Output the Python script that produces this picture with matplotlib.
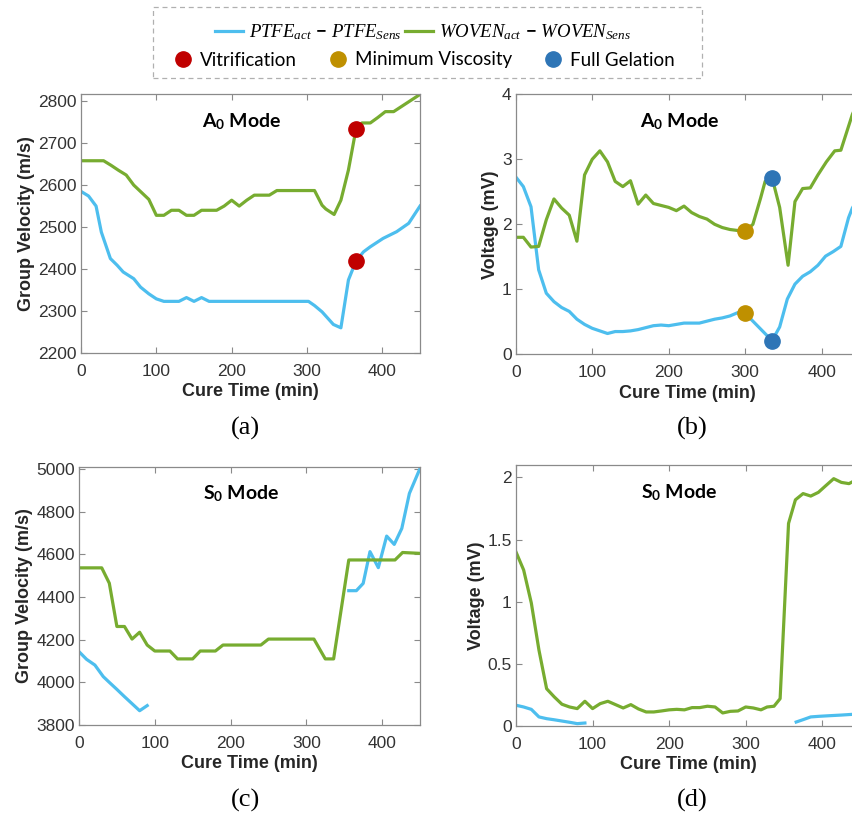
"""
Cure monitoring of PTFE / woven laminates with guided waves: group velocity
and received voltage of the A0 and S0 modes versus cure time.
Markers flag vitrification, minimum viscosity and full gelation.
"""
import numpy as np
import matplotlib
matplotlib.use("Agg")
import matplotlib.pyplot as plt
from matplotlib.lines import Line2D
from matplotlib.patches import Rectangle

plt.rcParams["font.family"] = ["Liberation Sans", "DejaVu Sans"]
plt.rcParams["mathtext.fontset"] = "custom"
plt.rcParams["mathtext.it"] = "Liberation Serif:italic"
plt.rcParams["mathtext.rm"] = "Lato:bold"

BLUE = "#4DBEEE"
GREEN = "#77AC30"
RED = "#C00000"
GOLD = "#BF9000"
DKBLUE = "#2E75B6"

# ---- (a) A0 group velocity (m/s)
a_woven_t = [0, 10, 20, 30, 40, 50, 60, 70, 80, 90, 100, 110, 120, 130, 140, 150, 160, 180,
             190, 200, 210, 220, 230, 250, 260, 310, 320, 325, 336, 345, 355, 365, 373, 384,
             394, 404, 415, 450]
a_woven_v = [2658, 2658, 2658, 2658, 2647, 2635, 2624, 2600, 2583, 2566, 2528, 2528, 2540, 2540,
             2528, 2528, 2540, 2540, 2550, 2564, 2550, 2564, 2576, 2576, 2587, 2587, 2552, 2543,
             2530, 2564, 2636, 2733, 2748, 2748, 2761, 2775, 2775, 2816]
a_ptfe_t = [0, 10, 20, 27, 39, 48, 56, 70, 79, 90, 100, 110, 130, 140, 150, 160, 170, 302, 310,
            320, 335, 345, 355, 365, 375, 384, 401, 419, 435, 450]
a_ptfe_v = [2585, 2574, 2550, 2488, 2425, 2409, 2393, 2377, 2357, 2341, 2329, 2323, 2323, 2332,
            2323, 2332, 2323, 2323, 2313, 2298, 2268, 2260, 2374, 2419, 2441, 2453, 2473, 2489,
            2509, 2550]

# ---- (b) A0 voltage (mV)
b_woven_t = [0, 10, 20, 30, 40, 50, 60, 70, 80, 90, 100, 110, 120, 130, 140, 150, 160, 170, 180,
             190, 200, 210, 220, 230, 240, 250, 260, 270, 280, 300, 310, 320, 326, 335, 345, 356,
             365, 375, 385, 395, 406, 417, 425, 440, 450]
b_woven_v = [1.80, 1.80, 1.65, 1.66, 2.07, 2.39, 2.25, 2.14, 1.74, 2.76, 3.00, 3.13, 2.96, 2.66,
             2.58, 2.67, 2.31, 2.45, 2.32, 2.29, 2.26, 2.21, 2.28, 2.18, 2.12, 2.08, 2.00, 1.95,
             1.92, 1.89, 2.00, 2.40, 2.66, 2.72, 2.26, 1.37, 2.35, 2.55, 2.56, 2.76, 2.96, 3.13,
             3.14, 3.69, 3.95]
b_ptfe_t = [0, 10, 20, 30, 40, 50, 60, 70, 80, 90, 100, 110, 120, 130, 140, 150, 160, 170, 180,
            190, 200, 210, 220, 230, 240, 250, 260, 270, 280, 290, 300, 335, 345, 355, 365, 375,
            385, 395, 405, 415, 425, 435, 440, 450]
b_ptfe_v = [2.73, 2.58, 2.27, 1.30, 0.94, 0.81, 0.72, 0.66, 0.54, 0.46, 0.40, 0.36, 0.32, 0.35,
            0.35, 0.36, 0.38, 0.41, 0.44, 0.45, 0.44, 0.46, 0.48, 0.48, 0.48, 0.51, 0.54, 0.56,
            0.59, 0.64, 0.63, 0.21, 0.42, 0.85, 1.08, 1.20, 1.27, 1.37, 1.51, 1.58, 1.66, 2.10,
            2.25, 2.45]

# ---- (c) S0 group velocity (m/s); NaN = no signal
c_woven_t = [0, 30, 40, 50, 60, 70, 80, 90, 100, 120, 130, 150, 160, 180, 190, 240, 250, 310,
             325, 336, 356, 417, 427, 450]
c_woven_v = [4537, 4537, 4465, 4262, 4262, 4203, 4235, 4175, 4147, 4147, 4110, 4110, 4147, 4147,
             4175, 4175, 4203, 4203, 4110, 4110, 4574, 4574, 4609, 4605]
c_ptfe_t = [0, 10, 21, 32, 40, 50, 60, 70, 80, 90, 220, 356, 366, 375, 384, 395, 406, 416, 426,
            436, 450]
c_ptfe_v = [4144, 4108, 4081, 4027, 4000, 3967, 3933, 3900, 3867, 3891, np.nan, 4430, 4430, 4464,
            4613, 4538, 4686, 4647, 4722, 4886, 5003]

# ---- (d) S0 voltage (mV)
d_woven_t = [0, 10, 20, 30, 40, 50, 60, 70, 80, 90, 100, 110, 120, 130, 140, 150, 160, 170, 180,
             190, 200, 210, 220, 230, 240, 250, 260, 270, 280, 290, 300, 310, 320, 328, 337, 345,
             356, 365, 375, 385, 395, 404, 415, 425, 435, 450]
d_woven_v = [1.40, 1.255, 0.99, 0.61, 0.30, 0.234, 0.175, 0.153, 0.14, 0.199, 0.14, 0.18, 0.199,
             0.172, 0.145, 0.172, 0.137, 0.113, 0.113, 0.121, 0.13, 0.134, 0.13, 0.148, 0.148,
             0.159, 0.153, 0.105, 0.118, 0.121, 0.153, 0.145, 0.13, 0.153, 0.159, 0.22, 1.63,
             1.82, 1.87, 1.85, 1.88, 1.93, 1.99, 1.96, 1.95, 2.00]
d_ptfe_t = [0, 10, 20, 30, 40, 50, 60, 70, 80, 90, 220, 366, 375, 385, 396, 410, 425, 440, 450]
d_ptfe_v = [0.167, 0.153, 0.134, 0.073, 0.059, 0.05, 0.04, 0.03, 0.019, 0.024, np.nan, 0.032,
            0.051, 0.073, 0.078, 0.083, 0.088, 0.094, 0.097]

# cure events
vit_t, vit_a = [365, 365], [2733, 2419]
minvisc_t, minvisc_b = [300, 300], [1.89, 0.63]
gel_t, gel_b = [335, 335], [2.72, 0.21]

W, H = 852, 817
fig = plt.figure(figsize=(W / 100, H / 100), dpi=100)


def px_axes(left, top, right, bottom):
    return fig.add_axes([left / W, 1 - bottom / H, (right - left) / W, (bottom - top) / H])


def style(ax, ylabel, ylim, yticks, mode):
    ax.set_xlim(0, 450)
    ax.set_ylim(*ylim)
    ax.set_xticks([0, 100, 200, 300, 400])
    ax.set_yticks(yticks)
    ax.tick_params(direction="in", length=4, width=0.8, top=True, right=True,
                   labelsize=12.5, colors="#8a8a8a", labelcolor="#333333")
    ax.tick_params(axis="x", pad=8)
    ax.tick_params(axis="y", pad=3)
    for s in ax.spines.values():
        s.set_color("#8a8a8a")
        s.set_linewidth(0.9)
    ax.set_xlabel("Cure Time (min)", fontsize=13, fontweight="bold", color="#262626", labelpad=3)
    ax.set_ylabel(ylabel, fontsize=13, fontweight="bold", color="#262626", labelpad=2)
    ax.text(0.475, 0.895, mode, transform=ax.transAxes, ha="center", va="center",
            fontsize=14, fontweight="bold", family=["Lato", "DejaVu Sans"])


LW = 2.3
MS = 11

# (a)
ax = px_axes(81, 94, 420, 353)
ax.plot(a_ptfe_t, a_ptfe_v, color=BLUE, lw=LW)
ax.plot(a_woven_t, a_woven_v, color=GREEN, lw=LW)
ax.plot(vit_t, vit_a, "o", color=RED, ms=MS, ls="none")
style(ax, "Group Velocity (m/s)", (2200, 2817), range(2200, 2801, 100), "A$_0$ Mode")

# (b) axes run past the right edge of the figure, as in the original
ax = px_axes(515.7, 94.3, 860, 354.3)
ax.plot(b_ptfe_t, b_ptfe_v, color=BLUE, lw=LW)
ax.plot(b_woven_t, b_woven_v, color=GREEN, lw=LW)
ax.plot(minvisc_t, minvisc_b, "o", color=GOLD, ms=MS, ls="none")
ax.plot(gel_t, gel_b, "o", color=DKBLUE, ms=MS, ls="none")
style(ax, "Voltage (mV)", (0, 4), [0, 1, 2, 3, 4], "A$_0$ Mode")

# (c)
ax = px_axes(79, 467, 420, 725)
ax.plot(c_ptfe_t, c_ptfe_v, color=BLUE, lw=LW)
ax.plot(c_woven_t, c_woven_v, color=GREEN, lw=LW)
style(ax, "Group Velocity (m/s)", (3800, 5010), range(3800, 5001, 200), "S$_0$ Mode")

# (d)
ax = px_axes(516, 465, 860.5, 726)
ax.plot(d_ptfe_t, d_ptfe_v, color=BLUE, lw=LW)
ax.plot(d_woven_t, d_woven_v, color=GREEN, lw=LW)
style(ax, "Voltage (mV)", (0, 2.1), [0, 0.5, 1, 1.5, 2], "S$_0$ Mode")
ax.set_yticklabels(["0", "0.5", "1", "1.5", "2"])

for lab, x, y in [("(a)", 245, 428), ("(b)", 692, 428), ("(c)", 245, 800), ("(d)", 692, 800)]:
    fig.text(x / W, 1 - y / H, lab, ha="center", va="center", fontsize=19,
             family="Liberation Serif")

# legend: dashed box with two rows
fig.patches.append(Rectangle((153 / W, 1 - 78 / H), (702 - 153) / W, 71 / H,
                             transform=fig.transFigure, fill=False, ls=(0, (4, 3)),
                             ec="#b0b0b0", lw=0.9))
line_handles = [Line2D([], [], color=BLUE, lw=LW), Line2D([], [], color=GREEN, lw=LW)]
fig.legend(line_handles, [r"$PTFE_{act}\,-\,PTFE_{Sens}$", r"$WOVEN_{act}\,-\,WOVEN_{Sens}$"],
           loc="center", bbox_to_anchor=(423 / W, 1 - 32 / H), ncol=2, frameon=False,
           fontsize=13.5, handlelength=1.5, handletextpad=0.3, columnspacing=0.2)
dot_handles = [Line2D([], [], marker="o", ls="none", color=c, ms=MS) for c in (RED, GOLD, DKBLUE)]
fig.legend(dot_handles, ["Vitrification", "Minimum Viscosity", "Full Gelation"],
           loc="center", bbox_to_anchor=(424 / W, 1 - 60 / H), ncol=3, frameon=False,
           prop={"family": "Lato", "size": 13.5}, handlelength=1.0, handletextpad=0.4,
           columnspacing=1.7)

fig.savefig("out.png", dpi=100)
